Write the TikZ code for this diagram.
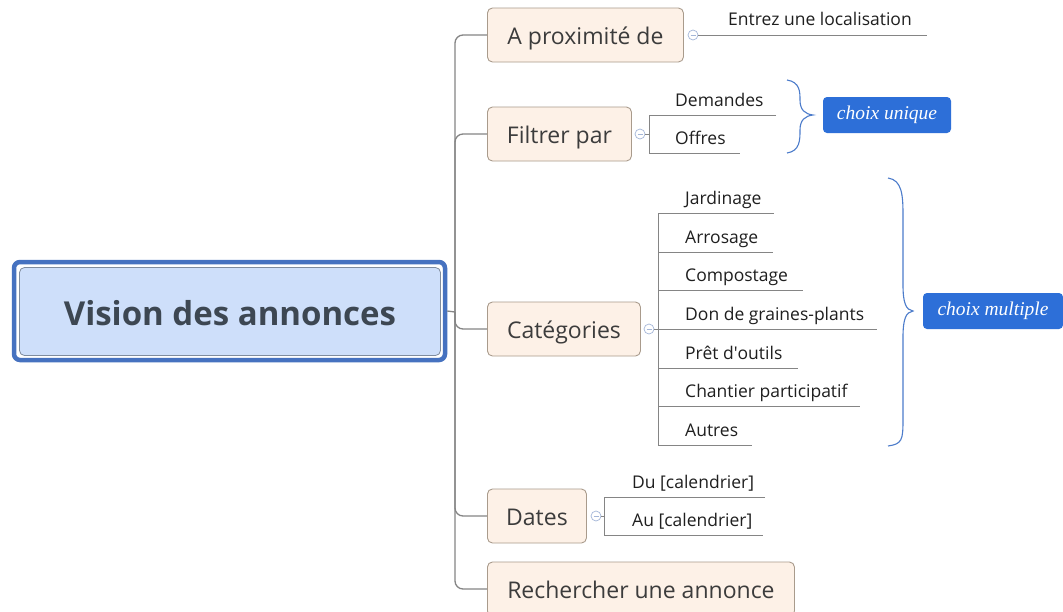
\documentclass[tikz,border=0pt]{standalone}
\usepackage{fontspec}
\setmainfont{Open Sans}
\newfontfamily\labelfont{Liberation Serif}
\definecolor{mainouter}{HTML}{4672C0}
\definecolor{mainfill}{HTML}{CEDFFA}
\definecolor{mainborder}{HTML}{7F8C9E}
\definecolor{maintext}{HTML}{3D4752}
\definecolor{boxfill}{HTML}{FDF1E7}
\definecolor{boxborder}{HTML}{A99B8C}
\definecolor{boxtext}{HTML}{3C3C3C}
\definecolor{linegray}{HTML}{858585}
\definecolor{markcol}{HTML}{A4B6D8}
\definecolor{tagblue}{HTML}{2D6FD8}
\definecolor{bracecol}{HTML}{4C7CCB}
\begin{document}
\begin{tikzpicture}[x=1pt,y=-1pt,
  branch/.style={draw=boxborder, fill=boxfill, rounded corners=5pt, line width=0.9pt,
    text=boxtext, font=\fontsize{23}{27}\selectfont, anchor=west, minimum height=54pt, inner sep=0pt,
    text height=18pt, text depth=0pt},
  trunk/.style={draw=linegray, line width=1.3pt, rounded corners=8pt},
  childline/.style={draw=linegray, line width=0.9pt},
  childtext/.style={anchor=base west, inner sep=0pt, text=black!88, font=\fontsize{17.5}{21}\selectfont},
  marker/.style={circle, draw=markcol, fill=white, line width=0.7pt, minimum size=10pt, inner sep=0pt},
  tag/.style={fill=tagblue, rounded corners=4pt, text=white, inner sep=0pt,
    font=\labelfont\itshape\fontsize{19.5}{23}\selectfont},
  bracepath/.style={draw=bracecol, line width=1.1pt}
]
\clip (0,0) rectangle (1063,611);
\fill[white] (0,0) rectangle (1063,611);

% main topic
\node[draw=mainouter, line width=4.5pt, fill=white, rounded corners=6pt,
  minimum width=431pt, minimum height=98pt, inner sep=0pt] (mainout) at (229.5,311) {};
\node[draw=mainborder, line width=0.8pt, fill=mainfill, rounded corners=5pt,
  minimum width=421pt, minimum height=88pt, inner sep=0pt, text=maintext,
  text height=27pt, text depth=0pt,
  font=\bfseries\fontsize{33}{39}\selectfont] (main) at (230,311.5) {Vision des annonces};

% branches
\node[branch, minimum width=196pt] (b1) at (487,35) {A proximité de};
\node[branch, minimum width=144pt] (b2) at (487,134) {Filtrer par};
\node[branch, minimum width=153pt] (b3) at (487,329) {Catégories};
\node[branch, minimum width=99pt] (b4) at (487,516) {Dates};
\node[branch, minimum width=307pt] (b5) at (487,589) {Rechercher une annonce};

% trunk
\coordinate (tj) at (455,312);
\draw[trunk] (mainout.east) -- (tj);
\draw[trunk] (tj) |- (b1.west);
\draw[trunk] (tj) |- (b2.west);
\draw[trunk] (tj) |- (b3.west);
\draw[trunk] (tj) |- (b4.west);
\draw[trunk] (tj) |- (b5.west);

% markers
\node[marker] (m1) at (693,35) {};
\node[marker] (m2) at (640,134) {};
\node[marker] (m3) at (649,329) {};
\node[marker] (m4) at (596,516) {};
\foreach \m in {m1,m2,m3,m4}{
  \draw[markcol, line width=0.7pt] ([xshift=-2.5pt]\m.center) -- ([xshift=2.5pt]\m.center);
}

% A proximite de
\coordinate (e1) at (927,35);
\draw[childline] (m1.east) -- (e1);
\node[childtext] (t1) at (728,25) {Entrez une localisation};

% Filtrer par
\coordinate (fT) at (649,115);
\coordinate (fB) at (649,153);
\coordinate (fM) at (649,134);
\coordinate (fdE) at (776,115);
\coordinate (foE) at (740,153);
\draw[childline] (m2.east) -- (fM);
\draw[childline] (fdE) -- (fT) -- (fB) -- (foE);
\node[childtext] (t2) at (675,106) {Demandes};
\node[childtext] (t3) at (675,144) {Offres};

% Categories
\coordinate (cT) at (658,213);
\coordinate (cB) at (658,445);
\draw[childline] (cT) -- (cB);
\draw[childline] (m3.east) -- (658,329);
\foreach \y/\e/\t [count=\i] in {213/774/Jardinage, 252/773/Arrosage, 290/803/Compostage,
   329/877/Don de graines-plants, 368/798/Prêt d\textquotesingle outils, 406/860/Chantier participatif, 445/752/Autres}{
  \coordinate (cs\i) at (658,\y);
  \coordinate (ce\i) at (\e,\y);
  \draw[childline] (cs\i) -- (ce\i);
  \node[childtext] (c\i) at (685,\y-9) {\t};
}

% Dates
\coordinate (dT) at (604,497);
\coordinate (dB) at (604,535);
\coordinate (dM) at (604,516);
\coordinate (ddE) at (765,497);
\coordinate (daE) at (763,535);
\draw[childline] (m4.east) -- (dM);
\draw[childline] (ddE) -- (dT) -- (dB) -- (daE);
\node[childtext] (t4) at (632,488) {Du [calendrier]};
\node[childtext] (t5) at (632,526) {Au [calendrier]};

% braces
\draw[bracepath] (787,80) .. controls (800,82) and (800,92) .. (800,100)
  .. controls (800,110) and (805,114) .. (813,115)
  .. controls (805,116) and (800,120) .. (800,130)
  .. controls (800,140) and (800,151) .. (787,153);
\draw[bracepath] (888,178) .. controls (902,180) and (903,195) .. (903,215)
  -- (903,285) .. controls (903,303) and (906,310) .. (913,311)
  .. controls (906,312) and (903,319) .. (903,337)
  -- (903,420) .. controls (903,440) and (902,444) .. (888,446);

% tags
\node[tag, minimum width=128pt, minimum height=36pt] (u) at (887,115) {choix unique};
\node[tag, minimum width=140pt, minimum height=36pt] (mu) at (993,311) {choix multiple};
\end{tikzpicture}
\end{document}
